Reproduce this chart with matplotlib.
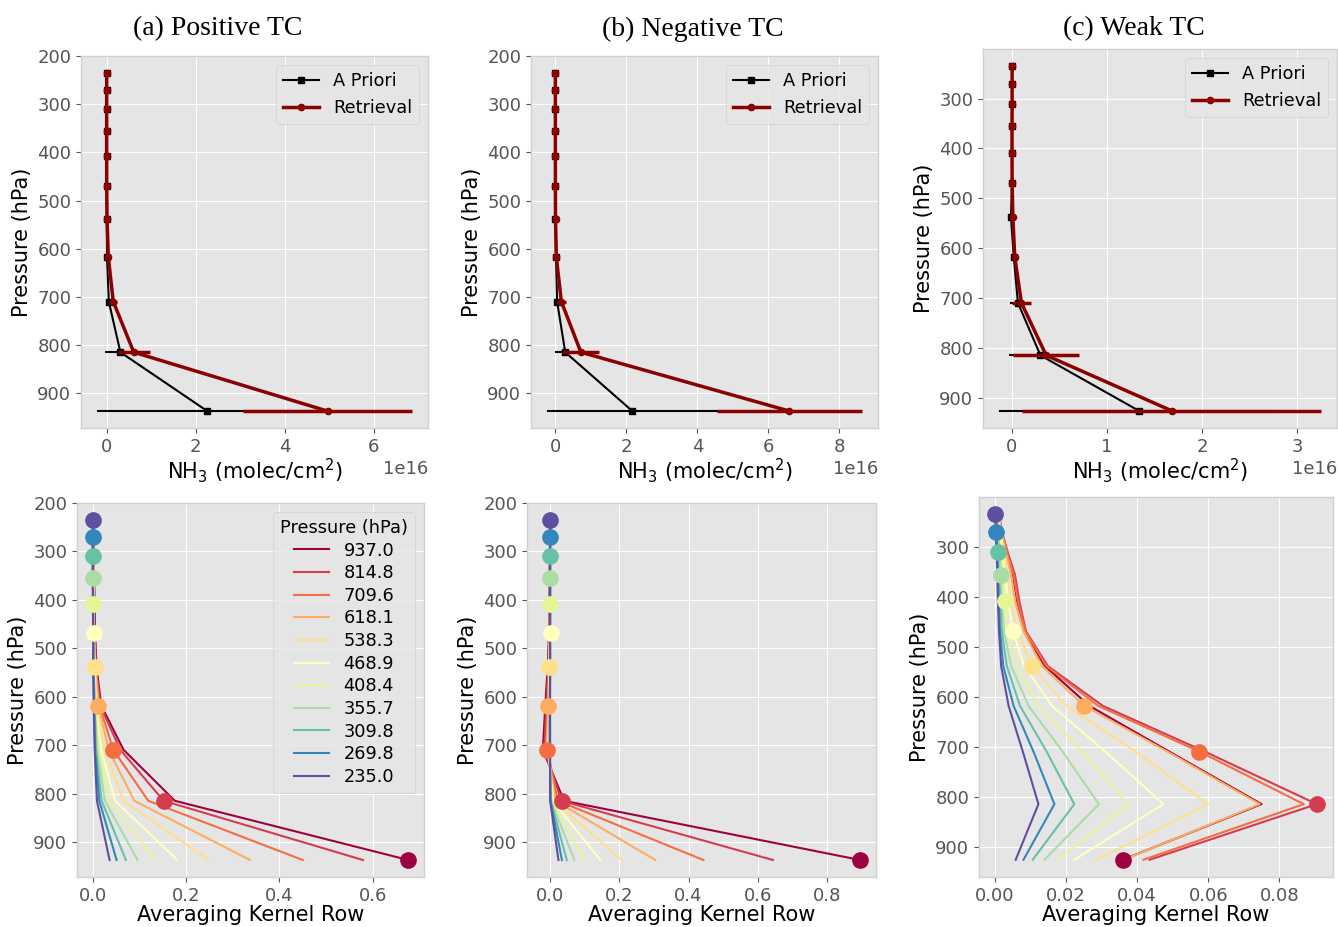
import numpy as np
import matplotlib
matplotlib.use("Agg")
import matplotlib.pyplot as plt

plt.style.use("ggplot")
plt.rcParams.update({
    "font.family": "DejaVu Sans",
    "xtick.labelsize": 13,
    "ytick.labelsize": 13,
    "axes.labelsize": 15,
    "axes.labelcolor": "black",
    "axes.edgecolor": "#d0d0d0",
    "legend.fontsize": 12.8,
    "legend.title_fontsize": 12.8,
})

# === pressure levels (hPa), top of atmosphere -> surface ===
p_levels = [235.0, 269.8, 309.8, 355.7, 408.4, 468.9, 538.3, 618.1, 709.6, 814.8, 937.0]
p_levels_weak = [235.0, 269.8, 309.8, 355.7, 408.4, 468.9, 538.3, 618.1, 709.6, 814.8, 926.0]

titles = ["(a) Positive TC", "(b) Negative TC", "(c) Weak TC"]

# === profiles, units of 1e16 molec/cm2 ===
apriori_pos = [0.003, 0.003, 0.003, 0.003, 0.003, 0.004, 0.006, 0.010, 0.05, 0.31, 2.26]
apriori_err_pos = [0.002, 0.002, 0.002, 0.002, 0.002, 0.003, 0.004, 0.01, 0.05, 0.34, 2.48]
retrieval_pos = [0.003, 0.003, 0.002, 0.002, 0.002, 0.003, 0.010, 0.04, 0.15, 0.61, 4.96]
retrieval_err_pos = [0.03, 0.03, 0.03, 0.03, 0.03, 0.03, 0.03, 0.04, 0.09, 0.36, 1.90]

apriori_neg = [0.002, 0.002, 0.002, 0.002, 0.002, 0.003, 0.005, 0.02, 0.05, 0.28, 2.17]
apriori_err_neg = [0.002, 0.002, 0.002, 0.002, 0.002, 0.003, 0.004, 0.01, 0.04, 0.30, 2.41]
retrieval_neg = [0.002, 0.002, 0.002, 0.002, 0.002, 0.003, 0.006, 0.03, 0.17, 0.72, 6.59]
retrieval_err_neg = [0.04, 0.04, 0.04, 0.04, 0.04, 0.04, 0.04, 0.05, 0.12, 0.50, 2.05]

apriori_weak = [0.001, 0.001, 0.001, 0.001, 0.001, 0.001, -0.01, 0.02, 0.063, 0.30, 1.335]
apriori_err_weak = [0.001, 0.001, 0.001, 0.001, 0.001, 0.002, 0.003, 0.01, 0.08, 0.33, 1.47]
retrieval_weak = [0.002, 0.002, 0.002, 0.001, 0.001, 0.002, 0.010, 0.03, 0.10, 0.36, 1.68]
retrieval_err_weak = [0.015, 0.015, 0.015, 0.015, 0.015, 0.015, 0.015, 0.02, 0.10, 0.35, 1.57]

# === averaging kernel rows (row = retrieval level, columns = p_levels) ===
ak_pos = [
    [0.000, 0.000, 0.000, 0.000, 0.000, 0.001, 0.001, 0.002, 0.004, 0.009, 0.036],
    [0.000, 0.000, 0.000, 0.000, 0.001, 0.001, 0.001, 0.003, 0.005, 0.014, 0.051],
    [0.000, 0.000, 0.000, 0.000, 0.001, 0.001, 0.002, 0.004, 0.007, 0.019, 0.071],
    [0.000, 0.000, 0.000, 0.000, 0.001, 0.001, 0.002, 0.004, 0.010, 0.026, 0.096],
    [0.000, 0.000, 0.000, 0.001, 0.001, 0.001, 0.002, 0.005, 0.014, 0.036, 0.134],
    [0.000, 0.000, 0.000, 0.001, 0.001, 0.002, 0.003, 0.006, 0.018, 0.048, 0.181],
    [0.000, 0.000, 0.001, 0.001, 0.001, 0.002, 0.004, 0.009, 0.025, 0.066, 0.248],
    [0.000, 0.001, 0.001, 0.001, 0.002, 0.003, 0.005, 0.012, 0.034, 0.089, 0.337],
    [0.001, 0.001, 0.001, 0.002, 0.002, 0.003, 0.006, 0.014, 0.044, 0.119, 0.450],
    [0.001, 0.001, 0.002, 0.002, 0.003, 0.004, 0.007, 0.016, 0.059, 0.152, 0.579],
    [0.001, 0.002, 0.002, 0.003, 0.004, 0.005, 0.008, 0.018, 0.066, 0.176, 0.676],
]

ak_neg = [
    [0.000, 0.000, 0.000, 0.000, 0.000, 0.000, 0.000, 0.000, 0.000, 0.000, 0.024],
    [0.000, 0.000, 0.000, 0.000, 0.000, 0.000, 0.000, -0.001, -0.001, 0.001, 0.034],
    [0.000, 0.000, 0.000, 0.000, 0.000, 0.000, 0.000, -0.001, -0.001, 0.002, 0.048],
    [0.000, 0.000, 0.000, 0.000, 0.000, 0.000, -0.001, -0.001, -0.002, 0.003, 0.070],
    [0.000, 0.000, 0.000, 0.000, 0.000, 0.000, -0.001, -0.002, -0.003, 0.005, 0.101],
    [0.000, 0.000, 0.000, 0.000, 0.000, 0.002, -0.001, -0.002, -0.004, 0.007, 0.145],
    [0.000, 0.000, 0.000, 0.000, 0.000, 0.000, -0.003, -0.003, -0.006, 0.010, 0.207],
    [0.000, 0.000, 0.000, 0.000, -0.001, -0.001, -0.003, -0.005, -0.008, 0.015, 0.304],
    [0.000, 0.000, 0.000, -0.001, -0.001, -0.002, -0.004, -0.007, -0.008, 0.022, 0.443],
    [0.000, 0.000, -0.001, -0.001, -0.002, -0.003, -0.005, -0.011, -0.017, 0.033, 0.644],
    [0.000, 0.000, -0.001, -0.001, -0.002, -0.003, -0.007, -0.014, -0.021, 0.040, 0.896],
]

ak_weak = [
    [0.0000, 0.0002, 0.0004, 0.0006, 0.0008, 0.0011, 0.0017, 0.0038, 0.0078, 0.0122, 0.0058],
    [0.0002, 0.0003, 0.0006, 0.0008, 0.0010, 0.0014, 0.0023, 0.0052, 0.0108, 0.0167, 0.0080],
    [0.0004, 0.0006, 0.0008, 0.0011, 0.0015, 0.0019, 0.0033, 0.0070, 0.0145, 0.0223, 0.0106],
    [0.0006, 0.0009, 0.0013, 0.0017, 0.0019, 0.0025, 0.0045, 0.0094, 0.0190, 0.0292, 0.0139],
    [0.0007, 0.0011, 0.0017, 0.0023, 0.0028, 0.0035, 0.0061, 0.0122, 0.0245, 0.0374, 0.0177],
    [0.0008, 0.0013, 0.0020, 0.0027, 0.0037, 0.0050, 0.0082, 0.0160, 0.0310, 0.0474, 0.0223],
    [0.0009, 0.0015, 0.0025, 0.0035, 0.0045, 0.0063, 0.0103, 0.0200, 0.0395, 0.0599, 0.0286],
    [0.0010, 0.0018, 0.0030, 0.0045, 0.0056, 0.0080, 0.0131, 0.0251, 0.0485, 0.0745, 0.0362],
    [0.0010, 0.0018, 0.0033, 0.0052, 0.0064, 0.0085, 0.0144, 0.0290, 0.0575, 0.0869, 0.0418],
    [0.0011, 0.0019, 0.0035, 0.0056, 0.0068, 0.0087, 0.0148, 0.0303, 0.0590, 0.0906, 0.0435],
    [0.0010, 0.0018, 0.0032, 0.0050, 0.0062, 0.0082, 0.0140, 0.0265, 0.0490, 0.0750, 0.0360],
]

W, H = 1338, 927


def px_axes(fig, left, top, right, bottom):
    # axes box given in pixels of the final image
    return fig.add_axes([left / W, 1 - bottom / H, (right - left) / W, (bottom - top) / H])


def profile_panel(ax, p, apriori, apriori_err, retrieval, retrieval_err):
    a = np.array(apriori) * 1e16
    ae = np.array(apriori_err) * 1e16
    r = np.array(retrieval) * 1e16
    re = np.array(retrieval_err) * 1e16
    ax.errorbar(a, p, xerr=ae, fmt="none", ecolor="black", elinewidth=1.5, zorder=2)
    ax.plot(a, p, color="black", marker="s", ms=5, lw=1.5, label="A Priori", zorder=3)
    ax.errorbar(r, p, xerr=re, fmt="none", ecolor="darkred", elinewidth=2.5, zorder=4)
    ax.plot(r, p, color="darkred", marker="o", ms=4.5, lw=2.5, label="Retrieval", zorder=5)
    ax.invert_yaxis()
    ax.set_xlabel("NH$_3$ (molec/cm$^2$)", labelpad=0)
    ax.set_ylabel("Pressure (hPa)")
    ax.legend(loc="upper right")


def kernel_panel(ax, p, ak, show_legend=False):
    ak = np.array(ak)
    n = len(p)
    colors = plt.cm.Spectral(np.linspace(0, 1, n))
    # surface level first so the legend reads 937 -> 235
    for k, i in enumerate(range(n - 1, -1, -1)):
        ax.plot(ak[i], p, color=colors[k], lw=1.5, label=f"{p_levels[i]:.1f}")
    for k, i in enumerate(range(n - 1, -1, -1)):
        ax.plot(ak[i, i], p[i], "o", color=colors[k], ms=11, zorder=4)
    ax.invert_yaxis()
    ax.set_xlabel("Averaging Kernel Row", labelpad=0)
    ax.set_ylabel("Pressure (hPa)")
    if show_legend:
        ax.legend(title="Pressure (hPa)", loc="upper right", labelspacing=0.26)


fig = plt.figure(figsize=(W / 100, H / 100), dpi=100)

ax1 = px_axes(fig, 81, 56, 428, 428)
ax2 = px_axes(fig, 531, 56, 878, 428)
ax3 = px_axes(fig, 983, 49, 1337, 428)
ax4 = px_axes(fig, 77, 503, 424, 877)
ax5 = px_axes(fig, 527, 503, 876, 877)
ax6 = px_axes(fig, 979, 497, 1333, 877)

profile_panel(ax1, p_levels, apriori_pos, apriori_err_pos, retrieval_pos, retrieval_err_pos)
profile_panel(ax2, p_levels, apriori_neg, apriori_err_neg, retrieval_neg, retrieval_err_neg)
profile_panel(ax3, p_levels_weak, apriori_weak, apriori_err_weak, retrieval_weak, retrieval_err_weak)

kernel_panel(ax4, p_levels, ak_pos, show_legend=True)
kernel_panel(ax5, p_levels, ak_neg)
kernel_panel(ax6, p_levels_weak, ak_weak)

for x, t in zip([218, 693, 1134], titles):
    fig.text(x / W, 1 - 29 / H, t, ha="center", va="center",
             family="Liberation Serif", fontsize=20)

fig.savefig("out.png", dpi=100)
